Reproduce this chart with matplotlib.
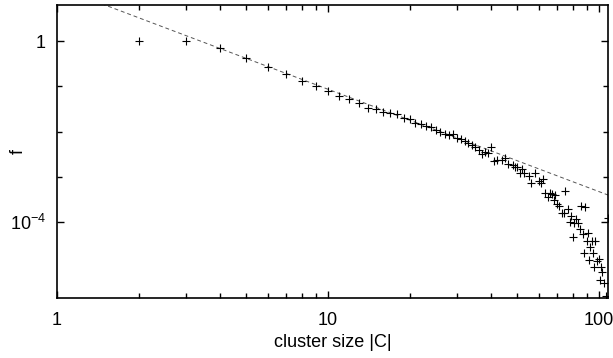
import matplotlib
matplotlib.use("Agg")
import matplotlib.pyplot as plt
from matplotlib.ticker import FixedLocator, NullFormatter
import numpy as np

plt.rcParams['font.family'] = ['Liberation Sans', 'DejaVu Sans']
plt.rcParams['mathtext.fontset'] = 'custom'
plt.rcParams['mathtext.rm'] = 'Liberation Sans'
plt.rcParams['mathtext.default'] = 'rm'

# cluster size distribution
size = [2, 3, 4, 5, 6, 7, 8, 9, 10, 11, 12, 13, 14, 15, 16, 17, 18, 19, 20,
        21, 22, 23, 24, 25, 26, 27, 28, 29, 30, 31, 32, 33, 34, 35, 36, 37, 38,
        39, 40, 41, 42, 44, 45, 46, 48, 49, 50, 51, 52, 53, 55, 56, 58, 60, 61,
        62, 63, 65, 66, 67, 68, 69, 70, 71, 73, 74, 75, 77, 78, 79, 80, 81, 82,
        84, 85, 86, 87, 88, 89, 90, 91, 92, 93, 94, 95, 96, 97, 98, 100, 101,
        102, 103, 104, 106, 108]
freq = [1.0, 1.0, 0.70, 0.42, 0.266, 0.187, 0.131, 0.101, 0.0785, 0.061,
        0.052, 0.0427, 0.033, 0.0314, 0.027, 0.026, 0.0244, 0.0199, 0.0192,
        0.0156, 0.0146, 0.0132, 0.0128, 0.0108, 0.0096, 0.0089, 0.0084, 0.0088,
        0.0073, 0.0067, 0.0062, 0.0056, 0.0050, 0.0045, 0.0039, 0.00318,
        0.00358, 0.0033, 0.00454, 0.00226, 0.0023, 0.00234, 0.00256, 0.00191,
        0.00182, 0.00162, 0.00167, 0.00119, 0.00146, 0.00119, 0.00105,
        0.000716, 0.00123, 0.000818, 0.000739, 0.000879, 0.000444, 0.000352,
        4.31e-4, 4.16e-4, 3.06e-4, 3.95e-4, 2.50e-4, 2.26e-4, 1.56e-4, 1.61e-4,
        4.92e-4, 1.91e-4, 1.02e-4, 1.36e-4, 4.73e-5, 9.66e-5, 1.15e-4, 9.36e-5,
        6.90e-5, 2.26e-4, 5.43e-5, 2.10e-5, 2.18e-4, 3.86e-5, 5.62e-5, 1.45e-5,
        2.76e-5, 3.86e-5, 2.10e-5, 1.00e-5, 3.86e-5, 1.40e-5, 1.50e-5, 5.23e-6,
        1.03e-5, 7.98e-6, 4.42e-6, 2.3e-6, 1.21e-4]

# power law fit f = a * |C|^-b
fit_a = 15.7
fit_b = 2.262

fig = plt.figure(figsize=(6.13, 3.58), dpi=100)
ax = fig.add_axes([57/613, 1 - 298/358, (608 - 57)/613, (298 - 5)/358])

xs = np.logspace(0, np.log10(110), 200)
ax.plot(xs, fit_a * xs**(-fit_b), ls=(0, (4, 3)), color='#555555', lw=0.7)
ax.plot(size, freq, '+', color='black', ms=5.5, mew=0.8)

ax.set_xscale('log')
ax.set_yscale('log')
ax.set_xlim(1, 108)
ax.set_ylim(2.09e-6, 6.25)

ax.xaxis.set_major_locator(FixedLocator([1, 10, 100]))
ax.xaxis.set_minor_locator(FixedLocator([2, 3, 4, 5, 6, 7, 8, 9,
                                         20, 30, 40, 50, 60, 70, 80, 90]))
ax.set_xticklabels(['1', '10', '100'])
ax.xaxis.set_minor_formatter(NullFormatter())

ax.yaxis.set_major_locator(FixedLocator([1, 1e-4]))
ax.yaxis.set_minor_locator(FixedLocator([1e-1, 1e-2, 1e-3]))
ax.set_yticklabels(['1', '$10^{-4}$'])
ax.yaxis.set_minor_formatter(NullFormatter())

ax.tick_params(which='both', direction='in', top=True, right=True,
               labelsize=13, width=1.0)
ax.tick_params(which='major', length=5, pad=10)
ax.tick_params(axis='y', which='major', pad=8)
ax.tick_params(which='minor', length=3.5)
for s in ax.spines.values():
    s.set_linewidth(1.2)

ax.set_xlabel('cluster size |C|', fontsize=13, labelpad=4)
ax.set_ylabel('f', fontsize=13)
ax.yaxis.set_label_coords(-0.055, 0.5)

fig.savefig('out.png', dpi=100)
